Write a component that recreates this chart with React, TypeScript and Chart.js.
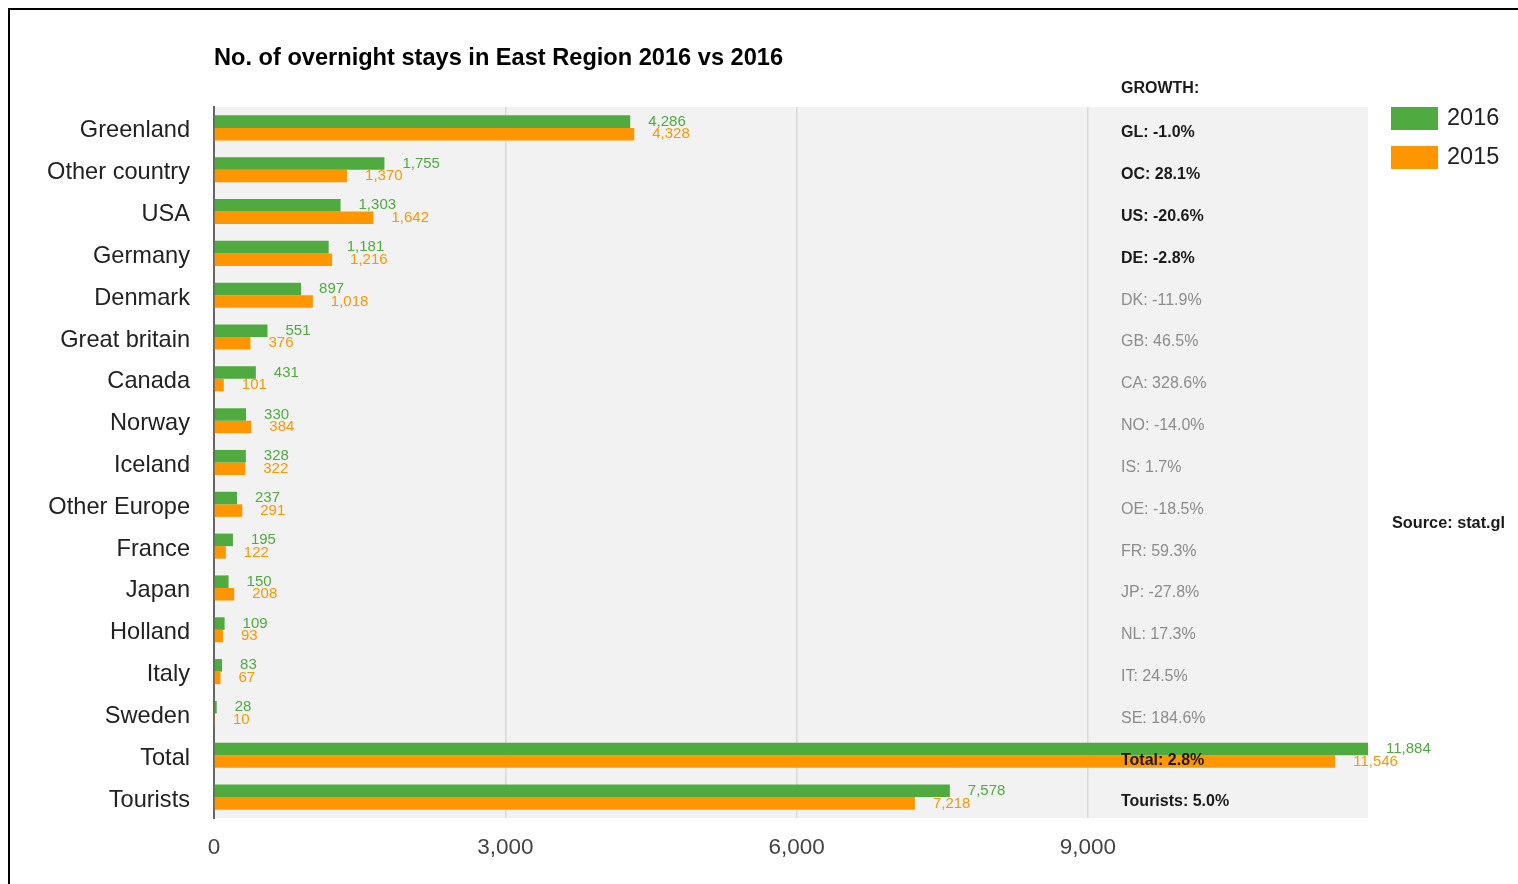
import React, { useEffect, useRef } from "react";
import { Chart, registerables } from "chart.js";

Chart.register(...registerables);

const categories = [
  "Greenland",
  "Other country",
  "USA",
  "Germany",
  "Denmark",
  "Great britain",
  "Canada",
  "Norway",
  "Iceland",
  "Other Europe",
  "France",
  "Japan",
  "Holland",
  "Italy",
  "Sweden",
  "Total",
  "Tourists",
];

const values2016 = [4286, 1755, 1303, 1181, 897, 551, 431, 330, 328, 237, 195, 150, 109, 83, 28, 11884, 7578];
const values2015 = [4328, 1370, 1642, 1216, 1018, 376, 101, 384, 322, 291, 122, 208, 93, 67, 10, 11546, 7218];

const seriesNames = ["2016", "2015"];

const growthLabels = [
  "GL: -1.0%",
  "OC: 28.1%",
  "US: -20.6%",
  "DE: -2.8%",
  "DK: -11.9%",
  "GB: 46.5%",
  "CA: 328.6%",
  "NO: -14.0%",
  "IS: 1.7%",
  "OE: -18.5%",
  "FR: 59.3%",
  "JP: -27.8%",
  "NL: 17.3%",
  "IT: 24.5%",
  "SE: 184.6%",
  "Total: 2.8%",
  "Tourists: 5.0%",
];
const highlightedGrowth = [0, 1, 2, 3, 15, 16];

const xTickValues = [0, 3000, 6000, 9000];
const xMax = 11884;

const titleText = "No. of overnight stays in East Region 2016 vs 2016";
const growthHeader = "GROWTH:";
const sourceText = "Source: stat.gl";

const GREEN = "#4fab3f";
const ORANGE = "#ff9600";
const FONT = "'Liberation Sans', Arial, Helvetica, sans-serif";

const fmt = (v: number) => v.toLocaleString("en-US");

const decorPlugin = {
  id: "decor",
  beforeDraw(chart: any) {
    const { ctx, chartArea } = chart;
    ctx.save();
    ctx.fillStyle = "#ffffff";
    ctx.fillRect(0, 0, chart.width, chart.height);
    ctx.fillStyle = "#f2f2f2";
    ctx.fillRect(chartArea.left, chartArea.top, chartArea.right - chartArea.left, chartArea.bottom - chartArea.top);
    // frame
    ctx.fillStyle = "#000000";
    ctx.fillRect(0, 0, chart.width, 2);
    ctx.fillRect(0, 0, 2, chart.height);
    ctx.restore();
  },
  afterDatasetsDraw(chart: any) {
    const { ctx, chartArea } = chart;
    const yScale = chart.scales.y;
    ctx.save();
    // value labels
    ctx.font = `15px ${FONT}`;
    ctx.textAlign = "left";
    ctx.textBaseline = "middle";
    chart.data.datasets.forEach((ds: any, di: number) => {
      const meta = chart.getDatasetMeta(di);
      ctx.fillStyle = ds.backgroundColor;
      meta.data.forEach((el: any, i: number) => {
        ctx.fillText(fmt(ds.data[i]), el.x + 18, el.y);
      });
    });

    // growth column
    const gx = chartArea.left + 907;
    ctx.font = `bold 16px ${FONT}`;
    ctx.fillStyle = "#1a1a1a";
    ctx.fillText(growthHeader, gx, chartArea.top - 18);
    growthLabels.forEach((txt, i) => {
      const hl = highlightedGrowth.includes(i);
      ctx.font = hl ? `bold 16px ${FONT}` : `16px ${FONT}`;
      ctx.fillStyle = hl ? "#1a1a1a" : "#8c8c8c";
      ctx.fillText(txt, gx, yScale.getPixelForValue(i) + 5);
    });

    // title
    ctx.font = `bold 23.6px ${FONT}`;
    ctx.fillStyle = "#000000";
    ctx.fillText(titleText, chartArea.left, 50);

    // legend
    const lx = chartArea.right + 23;
    chart.data.datasets.forEach((ds: any, di: number) => {
      const by = chartArea.top + di * 39;
      ctx.fillStyle = ds.backgroundColor;
      ctx.fillRect(lx, by, 47, 23);
      ctx.fillStyle = "#222222";
      ctx.font = `23.5px ${FONT}`;
      ctx.fillText(ds.label, lx + 56, by + 12);
    });

    // source
    ctx.font = `bold 16.3px ${FONT}`;
    ctx.fillStyle = "#1a1a1a";
    ctx.fillText(sourceText, chartArea.right + 24, chartArea.top + 417);
    ctx.restore();
  },
};

export default function App() {
  const canvasRef = useRef<HTMLCanvasElement | null>(null);

  useEffect(() => {
    if (!canvasRef.current) return;
    const chart = new Chart(canvasRef.current, {
      type: "bar",
      data: {
        labels: categories,
        datasets: [
          {
            label: seriesNames[0],
            data: values2016,
            backgroundColor: GREEN,
            categoryPercentage: 0.6,
            barPercentage: 1,
          },
          {
            label: seriesNames[1],
            data: values2015,
            backgroundColor: ORANGE,
            categoryPercentage: 0.6,
            barPercentage: 1,
          },
        ],
      },
      options: {
        indexAxis: "y",
        animation: false,
        responsive: true,
        maintainAspectRatio: false,
        devicePixelRatio: 1,
        layout: { padding: { left: 0, top: 99, right: 150, bottom: 0 } },
        plugins: {
          legend: { display: false },
          title: { display: false },
          tooltip: { enabled: false },
        },
        scales: {
          x: {
            type: "linear",
            min: 0,
            max: xMax,
            afterBuildTicks: (scale: any) => {
              scale.ticks = xTickValues.map((v) => ({ value: v }));
            },
            afterFit: (scale: any) => {
              scale.height = 66;
            },
            border: { display: false },
            grid: {
              drawTicks: false,
              color: (c: any) => (c.tick && c.tick.value === 0 ? "rgba(0,0,0,0)" : "#d9d9d9"),
              lineWidth: 1.5,
            },
            ticks: {
              padding: 16,
              color: "#444444",
              font: { family: FONT, size: 22.5 },
              callback: (v: any) => fmt(Number(v)),
            },
          },
          y: {
            afterFit: (scale: any) => {
              scale.width = 206;
            },
            border: { display: true, color: "#666666", width: 2 },
            grid: { display: false, drawTicks: false },
            ticks: {
              autoSkip: false,
              padding: 24,
              labelOffset: 3,
              color: "#222222",
              font: { family: FONT, size: 23.6 },
            },
          },
        },
      },
      plugins: [decorPlugin],
    });
    return () => chart.destroy();
  }, []);

  return (
    <div style={{ position: "fixed", left: 8, top: 8, width: 1510, height: 876 }}>
      <canvas ref={canvasRef} />
    </div>
  );
}
